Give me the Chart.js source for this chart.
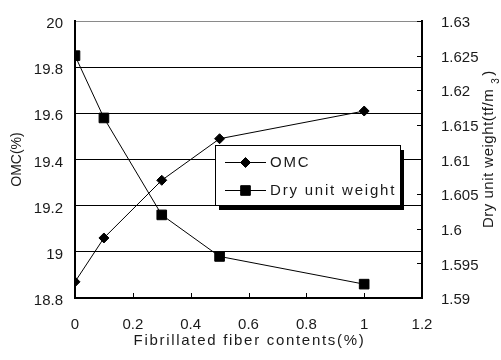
<!DOCTYPE html>
<html><head><meta charset="utf-8">
<script src="https://cdn.jsdelivr.net/npm/chart.js@4/dist/chart.umd.min.js"></script>
<style>html,body{margin:0;padding:0;background:#fff;} canvas{display:block;}</style>
</head><body>
<canvas id="c" width="501" height="360"></canvas>
<script>
const fiberContents = [0, 0.1, 0.3, 0.5, 1.0];
const omcValues = [18.87, 19.06, 19.31, 19.49, 19.61];
const dryUnitWeightValues = [1.625, 1.616, 1.602, 1.596, 1.592];
const xTickLabels = ['0', '0.2', '0.4', '0.6', '0.8', '1', '1.2'];
const omcTickLabels = ['18.8', '19', '19.2', '19.4', '19.6', '19.8', '20'];
const dryTickLabels = ['1.59', '1.595', '1.6', '1.605', '1.61', '1.615', '1.62', '1.625', '1.63'];
const seriesNames = ['OMC', 'Dry unit weight'];
const xTitle = 'Fibrillated fiber contents(%)';
const yTitle = 'OMC(%)';
const y1TitleParts = ['Dry unit weight(tf/m', '3', ')'];

const FONT = "'Liberation Sans', Arial, sans-serif";
const TEXT = '#1a1a1a';

const fixedTicks = labels => scale => {
  scale.ticks = labels.map(l => ({value: parseFloat(l), label: l}));
};

const decor = {
  id: 'decor',
  beforeDatasetsDraw(chart) {
    const {ctx, chartArea: a, scales: {x, y1}} = chart;
    ctx.save();
    ctx.strokeStyle = '#000';
    ctx.lineWidth = 1;
    ctx.beginPath();
    x.ticks.forEach(t => {
      const px = Math.round(x.getPixelForValue(t.value)) + 0.5;
      ctx.moveTo(px, a.bottom); ctx.lineTo(px, a.bottom - 5);
    });
    y1.ticks.forEach(t => {
      const py = Math.round(y1.getPixelForValue(t.value)) + 0.5;
      ctx.moveTo(a.right, py); ctx.lineTo(a.right - 5, py);
    });
    ctx.stroke();
    ctx.restore();
  },
  afterDraw(chart) {
    const {ctx, chartArea: a} = chart;
    ctx.save();
    // Legend
    const bx = 215, by = 145, bw = 185, bh = 60;
    ctx.fillStyle = '#000';
    ctx.fillRect(bx + 4, by + 5, bw, bh);
    ctx.fillStyle = '#fff';
    ctx.fillRect(bx, by, bw, bh);
    ctx.strokeStyle = '#000';
    ctx.lineWidth = 1;
    ctx.strokeRect(bx + 0.5, by + 0.5, bw, bh);
    const rows = [162, 190];
    chart.data.datasets.forEach((ds, i) => {
      const ry = rows[i] + 0.5;
      ctx.strokeStyle = '#000';
      ctx.lineWidth = 1;
      ctx.beginPath(); ctx.moveTo(225, ry); ctx.lineTo(266, ry); ctx.stroke();
      ctx.fillStyle = '#000';
      Chart.helpers.drawPoint(ctx, {pointStyle: ds.pointStyle, radius: ds.pointRadius, borderWidth: 1, rotation: 0}, 245.5, ry);
      ctx.fillStyle = TEXT;
      ctx.font = '15px ' + FONT;
      ctx.letterSpacing = '1.8px';
      ctx.textAlign = 'left';
      ctx.textBaseline = 'middle';
      ctx.fillText(ds.label, 270, rows[i] + 1);
    });
    // Titles
    ctx.fillStyle = TEXT;
    ctx.font = '15px ' + FONT;
    ctx.letterSpacing = '1.7px';
    ctx.textAlign = 'center';
    ctx.textBaseline = 'middle';
    ctx.fillText(xTitle, (a.left + a.right) / 2 + 1, 341);

    ctx.save();
    ctx.translate(17, (a.top + a.bottom) / 2);
    ctx.rotate(-Math.PI / 2);
    ctx.font = '14px ' + FONT;
    ctx.letterSpacing = '0px';
    ctx.fillText(yTitle, 0, 0);
    ctx.restore();

    ctx.save();
    ctx.translate(493, 228);
    ctx.rotate(-Math.PI / 2);
    ctx.textAlign = 'left';
    ctx.textBaseline = 'alphabetic';
    ctx.font = '15px ' + FONT;
    ctx.letterSpacing = '0.5px';
    ctx.fillText(y1TitleParts[0], 0, 0);
    let w = ctx.measureText(y1TitleParts[0]).width + 5;
    ctx.font = '10px ' + FONT;
    ctx.fillText(y1TitleParts[1], w, 6);
    w += ctx.measureText(y1TitleParts[1]).width + 2;
    ctx.font = '15px ' + FONT;
    ctx.fillText(y1TitleParts[2], w, 0);
    ctx.restore();

    ctx.restore();
  }
};

const toPoints = (xs, ys) => xs.map((v, i) => ({x: v, y: ys[i]}));

new Chart(document.getElementById('c'), {
  type: 'line',
  data: {
    datasets: [
      {
        label: seriesNames[0],
        data: toPoints(fiberContents, omcValues),
        yAxisID: 'y',
        borderColor: '#000', backgroundColor: '#000', borderWidth: 1,
        pointStyle: 'rectRot', pointRadius: 5, pointBackgroundColor: '#000', pointBorderColor: '#000',
        tension: 0
      },
      {
        label: seriesNames[1],
        data: toPoints(fiberContents, dryUnitWeightValues),
        yAxisID: 'y1',
        borderColor: '#000', backgroundColor: '#000', borderWidth: 1,
        pointStyle: 'rect', pointRadius: 6.8, pointBackgroundColor: '#000', pointBorderColor: '#000',
        tension: 0
      }
    ]
  },
  options: {
    responsive: false,
    animation: false,
    devicePixelRatio: 1,
    layout: {padding: {top: 16, left: 0, right: 0, bottom: 0}, autoPadding: false},
    plugins: {legend: {display: false}, tooltip: {enabled: false}},
    scales: {
      x: {
        type: 'linear', min: 0, max: 1.2,
        afterBuildTicks: fixedTicks(xTickLabels),
        grid: {display: false},
        border: {display: true, color: '#000', width: 2},
        ticks: {padding: 10, color: TEXT, font: {family: FONT, size: 15},
          maxRotation: 0, autoSkip: false, callback: (v, i) => xTickLabels[i]},
        afterFit: s => { s.height = 62; }
      },
      y: {
        type: 'linear', position: 'left', min: 18.8, max: 20,
        afterBuildTicks: fixedTicks(omcTickLabels),
        grid: {drawTicks: false, lineWidth: 1, color: c => (c.tick && c.tick.value >= 19.99) ? '#8a8a8a' : '#000'},
        border: {display: true, color: '#000', width: 2},
        ticks: {padding: 12, labelOffset: 3, color: TEXT, font: {family: FONT, size: 15},
          autoSkip: false, callback: (v, i) => omcTickLabels[i]},
        afterFit: s => { s.width = 75; }
      },
      y1: {
        type: 'linear', position: 'right', min: 1.59, max: 1.63,
        afterBuildTicks: fixedTicks(dryTickLabels),
        grid: {display: false},
        border: {display: true, color: '#000', width: 2},
        ticks: {padding: 11, labelOffset: 2, color: TEXT, font: {family: FONT, size: 15},
          autoSkip: false, callback: (v, i) => dryTickLabels[i]},
        afterFit: s => { s.width = 79; }
      }
    }
  },
  plugins: [decor]
});
</script>
</body></html>
